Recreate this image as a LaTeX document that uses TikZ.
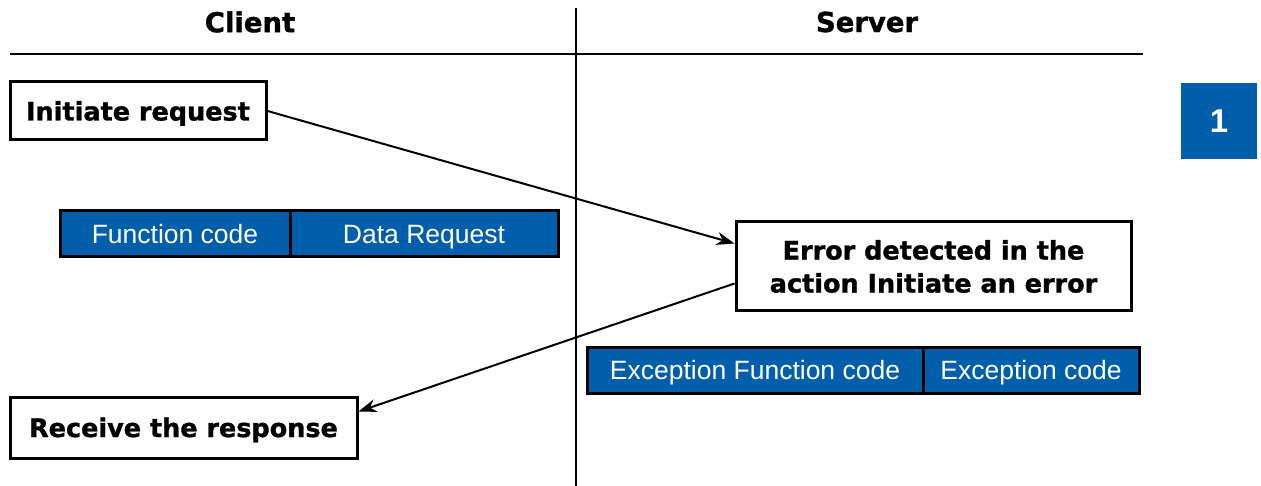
\documentclass[tikz,border=0pt]{standalone}
\usepackage{fontspec}
\setmainfont{Liberation Sans}
\newfontfamily\heavy{DejaVu Sans Bold}[FakeBold=1.2]
\usetikzlibrary{arrows.meta}
\definecolor{mbblue}{HTML}{005EAB}
\tikzset{
  x=1pt,y=-1pt,
  wbox/.style={draw=black,line width=3pt,fill=white,inner sep=0pt,font=\heavy\fontsize{25.5}{33}\selectfont,align=center},
  cell/.style={draw=black,line width=3pt,fill=mbblue,text=white,inner sep=0pt,minimum height=46pt,text height=19pt,text depth=0pt,font=\fontsize{26.5}{30}\selectfont},
  head/.style={font=\heavy\fontsize{27.5}{32}\selectfont,inner sep=0pt},
  conn/.style={line width=2pt,-{Stealth[length=18pt,width=13pt]}},
}
\begin{document}
\begin{tikzpicture}
\useasboundingbox (0,0) rectangle (1261,486);
\node[head] (client) at (250,22) {Client};
\node[head] (server) at (867,22) {Server};
\draw[line width=2.5pt] (10,54) -- (1143,54);
\draw[line width=2pt] (576,8) -- (576,486);
\node[wbox,minimum width=256pt,minimum height=58pt,text height=19pt,text depth=0pt] (init) at (138,111) {Initiate request};
\node[cell,minimum width=230pt] (fc) at (175,234) {Function code};
\node[cell,minimum width=268pt] (dr) at (424,234) {Data Request};
\node[wbox,minimum width=395pt,minimum height=89pt] (err) at (933.5,266.5) {Error detected in the\\action Initiate an error};
\node[cell,minimum width=336pt] (efc) at (755,370) {Exception Function code};
\node[cell,minimum width=216pt] (ec) at (1031,370) {Exception code};
\node[wbox,minimum width=347pt,minimum height=61pt,text height=19pt,text depth=0pt] (recv) at (183.5,427.5) {Receive the response};
\node[fill=mbblue,text=white,minimum width=76pt,minimum height=76pt,inner sep=0pt,font=\bfseries\fontsize{33}{36}\selectfont] (num) at (1219,121) {1};
\draw[conn] (init.east) -- ([yshift=23pt]err.west);
\draw[conn] ([yshift=-17pt]err.west) -- ([yshift=16pt]recv.east);
\end{tikzpicture}
\end{document}
